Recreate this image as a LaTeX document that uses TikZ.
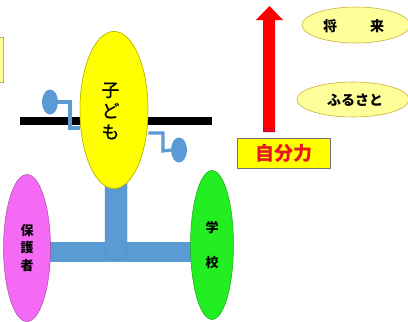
\documentclass[tikz,border=0pt]{standalone}
\usepackage{fontspec}
\newfontfamily\jp{Noto Sans CJK JP}
\newfontfamily\jpm{Noto Sans CJK JP}[FakeBold=0.6]
\usetikzlibrary{shapes.geometric}
\definecolor{cyel}{HTML}{FFFF00}
\definecolor{cpale}{HTML}{FFFF99}
\definecolor{cpaleb}{HTML}{C8B040}
\definecolor{cpink}{HTML}{F46AF4}
\definecolor{cgreen}{HTML}{22EE22}
\definecolor{cblue}{HTML}{5B9BD5}
\definecolor{cblueb}{HTML}{4A85BE}
\definecolor{cred}{HTML}{FF0000}
\definecolor{ctxtred}{HTML}{E8141E}
\tikzset{
  bigell/.style={ellipse, draw=#1!70!black, line width=0.5pt, inner sep=0pt},
  paleell/.style={ellipse, draw=cpaleb, fill=cpale, line width=0.6pt, inner sep=0pt},
  smalltxt/.style={font=\jp\bfseries\fontsize{14}{16}\selectfont},
  bluecon/.style={draw=cblue, line width=3.2pt},
  bluedot/.style={ellipse, fill=cblue, inner sep=0pt, minimum width=16pt, minimum height=25pt},
}
\begin{document}
\begin{tikzpicture}[x=1pt,y=-1pt]
\useasboundingbox (0,0) rectangle (408,322);
\fill[white] (0,0) rectangle (408,322);
% partial box at left edge
\node[draw=cpaleb, fill=cpale, minimum width=6pt, minimum height=45pt, inner sep=0pt, line width=0.5pt] (lbox) at (0,59.5) {};
% blue trunk and bar
\fill[cblue] (50,242) rectangle (192,262);
\draw[cblueb, fill=cblue, line width=0.4pt] (105,170) -- (105,250) arc[start angle=180, end angle=0, x radius=11, y radius=10] -- (127,170) ;
\fill[cblue] (105,168) rectangle (127,200);
% black bar
\fill[black] (20,117) rectangle (212,125);
% blue side connectors
\node[bluedot] (ldot) at (50,102) {};
\node[bluedot] (rdot) at (179,150) {};
% main ellipses
\node[bigell=cyel, fill=cyel, minimum width=68pt, minimum height=157pt] (child) at (114,110) {};
\draw[bluecon] (ldot.east) -- (70,102) -- (70,128) -- (child.west |- 0,128);
\draw[bluecon] (child.east |- 0,133) -- (163,133) -- (163,151) -- (rdot.west);
\node[bigell=cyel, fill=cyel, minimum width=68pt, minimum height=157pt] at (child) {};
\node[align=center, font=\jpm\fontsize{18}{21}\selectfont] (childtxt) at (110.5,111) {子\\ど\\も};
\node[bigell=cpink, fill=cpink, minimum width=47pt, minimum height=147pt, align=center, font=\jp\bfseries\fontsize{13}{17.5}\selectfont] (parent) at (27,248) {保\\護\\者};
\node[bigell=cgreen, fill=cgreen, minimum width=43pt, minimum height=149pt, align=center, font=\jp\bfseries\fontsize{13}{17.5}\selectfont] (school) at (212,245) {学\\[17.5pt]校};
% red arrow
\fill[cred] (263,132) -- (263,20) -- (256,20) -- (269.5,6) -- (283,20) -- (275,20) -- (275,132) -- cycle;
\fill[cred!60!violet] (263,127.5) rectangle (275,129);
\fill[violet!70!red] (263,130.5) rectangle (275,132);
% self power box
\node[draw=black!55, fill=cyel, line width=0.6pt, minimum width=93pt, minimum height=30pt, inner sep=0pt, text=ctxtred, font=\jp\bfseries\fontsize{19}{22}\selectfont] (self) at (283.5,153) {自分力};
% future and hometown
\node[paleell, minimum width=108pt, minimum height=36pt] (future) at (356,25) {};
\node[smalltxt] (fut1) at (330,26) {将};
\node[smalltxt] (fut2) at (377,26) {来};
\node[paleell, minimum width=112pt, minimum height=35pt] (home) at (353,99.5) {};
\node[smalltxt] (hometxt) at (355,100) {ふるさと};
\end{tikzpicture}
\end{document}
